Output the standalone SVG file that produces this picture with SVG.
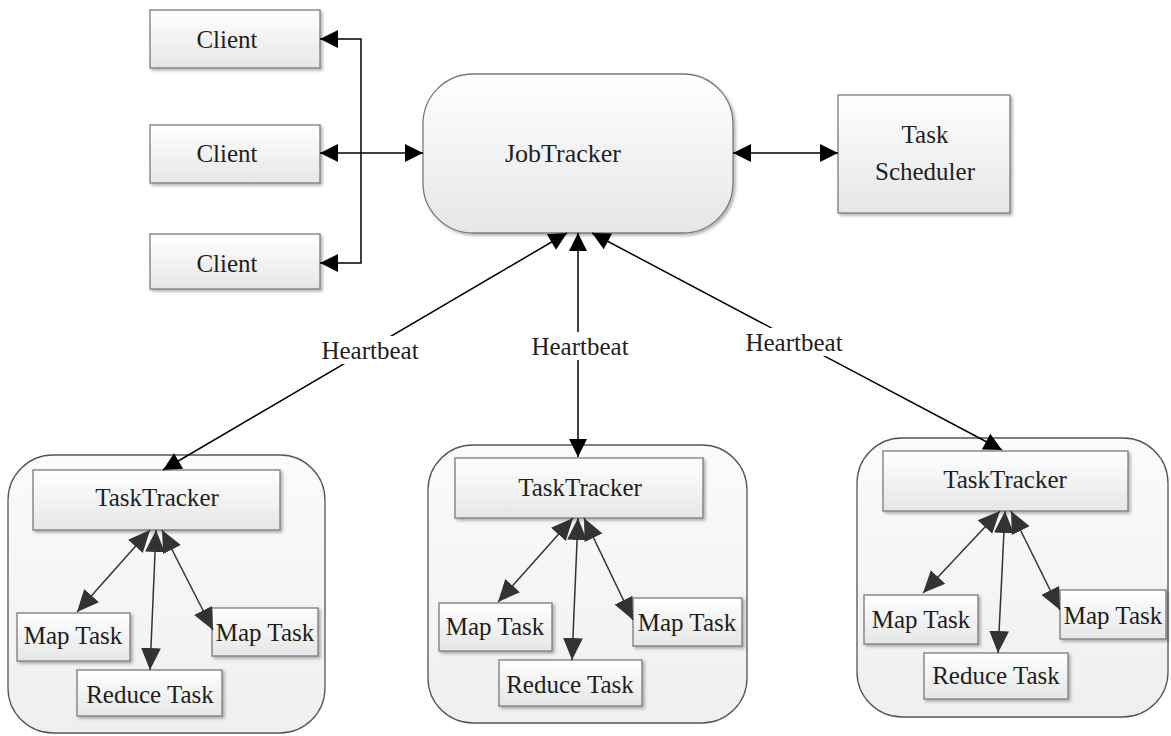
<svg xmlns="http://www.w3.org/2000/svg" width="1171" height="736" viewBox="0 0 1171 736">
<defs>
<linearGradient id="g" x1="0" y1="0" x2="0" y2="1">
<stop offset="0" stop-color="#ffffff"/>
<stop offset="1" stop-color="#e6e6e6"/>
</linearGradient>
<linearGradient id="gc" x1="0" y1="0" x2="0" y2="1">
<stop offset="0" stop-color="#fbfbfb"/>
<stop offset="1" stop-color="#efefef"/>
</linearGradient>
<filter id="sh" x="-10%" y="-10%" width="130%" height="130%">
<feDropShadow dx="2" dy="2" stdDeviation="1.5" flood-color="#000" flood-opacity="0.3"/>
</filter>
<marker id="ah" viewBox="0 0 20 20" refX="20" refY="10" markerWidth="20" markerHeight="18" markerUnits="userSpaceOnUse" orient="auto-start-reverse">
<path d="M0,0 L20,10 L0,20 z" fill="#000"/>
</marker>
<marker id="ai" viewBox="0 0 20 20" refX="20" refY="10" markerWidth="22" markerHeight="22" markerUnits="userSpaceOnUse" orient="auto-start-reverse">
<path d="M0,1 L20,10 L0,19 z" fill="#333"/>
</marker>
</defs>
<style>
.box{fill:url(#g);stroke:#7a7a7a;stroke-width:1.3;filter:url(#sh)}
.cont{fill:url(#gc);stroke:#555;stroke-width:1.3}
.t{font-family:"Liberation Serif","Times New Roman",serif;font-size:25px;fill:#1e1e1e;text-anchor:middle}
.c{fill:none;stroke:#000;stroke-width:1.5;marker-start:url(#ah);marker-end:url(#ah)}
.ci{fill:none;stroke:#333;stroke-width:1.5;marker-start:url(#ai);marker-end:url(#ai)}
.bg{fill:#fff}
</style>
<rect width="1171" height="736" fill="#fff"/>

<g id="client1"><rect class="box" x="150" y="10" width="170" height="58"/><text class="t" x="227" y="48">Client</text></g>
<g id="client2"><rect class="box" x="150" y="125" width="170" height="58"/><text class="t" x="227" y="162">Client</text></g>
<g id="client3"><rect class="box" x="150" y="234" width="170" height="55"/><text class="t" x="227" y="272">Client</text></g>

<g id="jobtracker"><rect class="box" x="423" y="74" width="310" height="159" rx="50" ry="50"/><text class="t" x="563" y="162" style="font-size:26px">JobTracker</text></g>

<g id="scheduler"><rect class="box" x="838" y="95" width="172" height="118"/><text class="t" x="925" y="143">Task</text><text class="t" x="925" y="180">Scheduler</text></g>

<g id="tt1">
<rect class="cont" x="8" y="455" width="317" height="278" rx="45" ry="45"/>
<rect class="box" x="33" y="470" width="247" height="60"/><text class="t" x="157" y="506">TaskTracker</text>
<rect class="box" x="17" y="613" width="113" height="48"/><text class="t" x="73" y="644">Map Task</text>
<rect class="box" x="212" y="608" width="106" height="48"/><text class="t" x="265" y="641">Map Task</text>
<rect class="box" x="77" y="670" width="145" height="46"/><text class="t" x="150" y="703">Reduce Task</text>
</g>

<g id="tt2">
<rect class="cont" x="428" y="445" width="319" height="278" rx="45" ry="45"/>
<rect class="box" x="455" y="458" width="248" height="60"/><text class="t" x="580" y="496">TaskTracker</text>
<rect class="box" x="439" y="603" width="113" height="48"/><text class="t" x="495" y="635">Map Task</text>
<rect class="box" x="633" y="598" width="109" height="48"/><text class="t" x="687" y="631">Map Task</text>
<rect class="box" x="499" y="660" width="143" height="46"/><text class="t" x="570" y="693">Reduce Task</text>
</g>

<g id="tt3">
<rect class="cont" x="857" y="438" width="311" height="279" rx="45" ry="45"/>
<rect class="box" x="883" y="451" width="245" height="60"/><text class="t" x="1005" y="488">TaskTracker</text>
<rect class="box" x="864" y="595" width="114" height="49"/><text class="t" x="921" y="628">Map Task</text>
<rect class="box" x="1060" y="590" width="106" height="49"/><text class="t" x="1113" y="624">Map Task</text>
<rect class="box" x="924" y="653" width="144" height="46"/><text class="t" x="996" y="684">Reduce Task</text>
</g>

<g id="connectors">
<path class="c" d="M320,39 L361,39 L361,263 L320,263"/>
<line class="c" x1="320" y1="153" x2="423" y2="153"/>
<line class="c" x1="733" y1="153" x2="838" y2="153"/>

<line class="c" x1="567" y1="233" x2="163" y2="470"/>
<line class="c" x1="578" y1="233" x2="578" y2="457"/>
<line class="c" x1="592" y1="233" x2="1002" y2="450"/>
<rect class="bg" x="318" y="336" width="105" height="28"/>
<text class="t" x="370" y="359">Heartbeat</text>
<rect class="bg" x="528" y="332" width="105" height="28"/>
<text class="t" x="580" y="355">Heartbeat</text>
<rect class="bg" x="742" y="328" width="105" height="28"/>
<text class="t" x="794" y="351">Heartbeat</text>

<line class="ci" x1="150" y1="530" x2="77" y2="612"/>
<line class="ci" x1="156" y1="530" x2="150" y2="670"/>
<line class="ci" x1="162" y1="530" x2="213" y2="630"/>

<line class="ci" x1="573" y1="518" x2="498" y2="602"/>
<line class="ci" x1="578" y1="518" x2="572" y2="660"/>
<line class="ci" x1="584" y1="518" x2="633" y2="620"/>

<line class="ci" x1="1000" y1="511" x2="923" y2="593"/>
<line class="ci" x1="1005" y1="511" x2="998" y2="653"/>
<line class="ci" x1="1011" y1="511" x2="1060" y2="610"/>
</g>
</svg>
